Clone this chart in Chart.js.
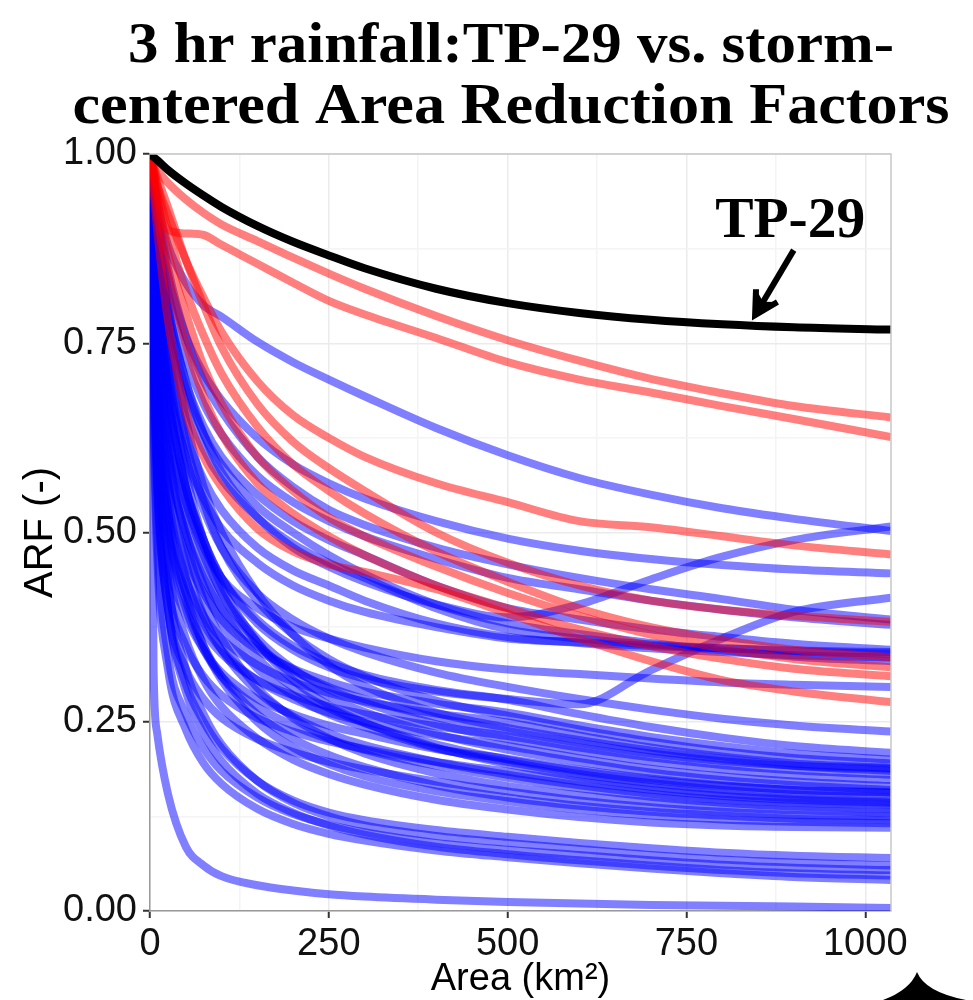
<!DOCTYPE html>
<html><head><meta charset="utf-8">
<script src="https://cdn.jsdelivr.net/npm/chart.js@4.4.1/dist/chart.umd.min.js"></script>
<style>html,body{margin:0;padding:0;background:#fff}#wrap{width:973px;height:1000px;position:relative}</style>
</head><body><div id="wrap"><canvas id="c"></canvas></div>
<script>
// ---------------- data ----------------
const areaKm2 = [0, 5, 10, 25, 50, 75, 100, 150, 200, 250, 300, 400, 500, 600, 700, 800, 900, 1036];
const xTicks = [0, 250, 500, 750, 1000];
const yTicks = [0, 0.25, 0.5, 0.75, 1];
const titleLines = ['3 hr rainfall:TP-29 vs. storm-', 'centered Area Reduction Factors'];
const xTitle = 'Area (km²)';
const yTitle = 'ARF (-)';
const tpLabel = 'TP-29';

const tp29 = [1, 0.996, 0.992, 0.979, 0.961, 0.945, 0.93, 0.905, 0.884, 0.866, 0.849, 0.822, 0.803, 0.79, 0.781, 0.775, 0.771, 0.768];

const redStorms = [
  [1, 0.99, 0.98, 0.962, 0.94, 0.922, 0.907, 0.885, 0.863, 0.842, 0.822, 0.786, 0.754, 0.727, 0.703, 0.684, 0.667, 0.652],
  [1, 0.975, 0.95, 0.90, 0.895, 0.893, 0.88, 0.855, 0.83, 0.806, 0.788, 0.757, 0.725, 0.702, 0.685, 0.667, 0.65, 0.626],
  [1, 0.98, 0.96, 0.92, 0.86, 0.81, 0.765, 0.70, 0.655, 0.625, 0.60, 0.565, 0.54, 0.515, 0.507, 0.495, 0.483, 0.471],
  [1, 0.985, 0.97, 0.93, 0.86, 0.80, 0.745, 0.67, 0.62, 0.585, 0.555, 0.50, 0.46, 0.43, 0.41, 0.398, 0.39, 0.382],
  [1, 0.98, 0.96, 0.90, 0.82, 0.76, 0.71, 0.64, 0.59, 0.555, 0.525, 0.475, 0.435, 0.40, 0.375, 0.358, 0.345, 0.335],
  [1, 0.97, 0.94, 0.87, 0.79, 0.72, 0.67, 0.60, 0.555, 0.52, 0.495, 0.455, 0.42, 0.39, 0.365, 0.347, 0.333, 0.322],
  [1, 0.96, 0.92, 0.84, 0.75, 0.68, 0.63, 0.565, 0.525, 0.495, 0.47, 0.43, 0.40, 0.372, 0.35, 0.333, 0.32, 0.31],
  [1, 0.95, 0.90, 0.78, 0.66, 0.60, 0.56, 0.505, 0.475, 0.458, 0.448, 0.425, 0.393, 0.36, 0.33, 0.305, 0.29, 0.276]
];

const blueStorms = [
  [1, 0.97, 0.94, 0.88, 0.83, 0.80, 0.785, 0.752, 0.725, 0.702, 0.68, 0.638, 0.602, 0.572, 0.55, 0.532, 0.518, 0.502],
  [1, 0.95, 0.90, 0.80, 0.70, 0.63, 0.58, 0.52, 0.48, 0.455, 0.435, 0.405, 0.388, 0.405, 0.438, 0.468, 0.49, 0.508],
  [1, 0.96, 0.92, 0.84, 0.76, 0.71, 0.675, 0.625, 0.59, 0.565, 0.545, 0.515, 0.492, 0.476, 0.465, 0.457, 0.451, 0.446],
  [1, 0.90, 0.82, 0.68, 0.56, 0.49, 0.44, 0.38, 0.345, 0.322, 0.307, 0.29, 0.28, 0.273, 0.318, 0.36, 0.395, 0.414],
  [1, 0.97, 0.93, 0.85, 0.76, 0.70, 0.66, 0.60, 0.56, 0.53, 0.51, 0.48, 0.458, 0.44, 0.425, 0.412, 0.398, 0.385],
  [1, 0.96, 0.91, 0.82, 0.73, 0.67, 0.63, 0.575, 0.54, 0.515, 0.495, 0.465, 0.44, 0.425, 0.41, 0.398, 0.388, 0.378],
  [1, 0.95, 0.90, 0.80, 0.70, 0.64, 0.60, 0.55, 0.515, 0.49, 0.47, 0.43, 0.40, 0.385, 0.372, 0.362, 0.353, 0.345],
  [1, 0.94, 0.88, 0.77, 0.67, 0.61, 0.57, 0.52, 0.485, 0.46, 0.44, 0.40, 0.372, 0.36, 0.352, 0.347, 0.343, 0.34],
  [1, 0.92, 0.85, 0.73, 0.63, 0.57, 0.53, 0.48, 0.45, 0.43, 0.41, 0.38, 0.362, 0.354, 0.347, 0.342, 0.338, 0.335],
  [1, 0.95, 0.90, 0.79, 0.69, 0.63, 0.59, 0.535, 0.50, 0.47, 0.445, 0.405, 0.38, 0.366, 0.354, 0.344, 0.336, 0.33],
  [1, 0.88, 0.78, 0.64, 0.54, 0.48, 0.44, 0.40, 0.375, 0.36, 0.348, 0.33, 0.319, 0.313, 0.307, 0.302, 0.299, 0.296],
  [1, 0.92, 0.85, 0.72, 0.60, 0.53, 0.48, 0.42, 0.385, 0.36, 0.342, 0.315, 0.296, 0.28, 0.266, 0.254, 0.245, 0.237],
  [1, 0.90, 0.82, 0.68, 0.56, 0.49, 0.44, 0.385, 0.35, 0.328, 0.312, 0.292, 0.279, 0.26, 0.243, 0.229, 0.218, 0.209],
  [1, 0.84, 0.72, 0.57, 0.47, 0.42, 0.385, 0.345, 0.32, 0.303, 0.29, 0.274, 0.262, 0.245, 0.23, 0.218, 0.208, 0.20],
  [1, 0.93, 0.87, 0.75, 0.62, 0.54, 0.48, 0.41, 0.365, 0.333, 0.31, 0.278, 0.258, 0.24, 0.224, 0.211, 0.202, 0.195],
  [1, 0.82, 0.68, 0.53, 0.44, 0.39, 0.36, 0.325, 0.303, 0.288, 0.277, 0.261, 0.249, 0.232, 0.216, 0.204, 0.195, 0.189],
  [1, 0.95, 0.90, 0.78, 0.65, 0.56, 0.50, 0.42, 0.365, 0.325, 0.297, 0.262, 0.242, 0.226, 0.212, 0.201, 0.192, 0.185],
  [1, 0.80, 0.66, 0.51, 0.42, 0.37, 0.34, 0.305, 0.285, 0.27, 0.26, 0.244, 0.231, 0.216, 0.203, 0.193, 0.186, 0.18],
  [1, 0.90, 0.81, 0.66, 0.54, 0.47, 0.42, 0.36, 0.32, 0.293, 0.275, 0.247, 0.227, 0.211, 0.197, 0.187, 0.179, 0.173],
  [1, 0.84, 0.71, 0.55, 0.44, 0.38, 0.345, 0.305, 0.28, 0.262, 0.25, 0.232, 0.218, 0.202, 0.188, 0.178, 0.171, 0.165],
  [1, 0.92, 0.84, 0.69, 0.56, 0.48, 0.42, 0.355, 0.312, 0.283, 0.263, 0.234, 0.213, 0.197, 0.183, 0.173, 0.166, 0.16],
  [1, 0.77, 0.62, 0.47, 0.39, 0.345, 0.315, 0.28, 0.26, 0.245, 0.234, 0.214, 0.201, 0.187, 0.175, 0.166, 0.16, 0.156],
  [1, 0.88, 0.77, 0.61, 0.50, 0.43, 0.38, 0.32, 0.285, 0.26, 0.243, 0.215, 0.197, 0.181, 0.169, 0.16, 0.154, 0.15],
  [1, 0.93, 0.86, 0.72, 0.58, 0.49, 0.43, 0.355, 0.305, 0.272, 0.249, 0.216, 0.194, 0.177, 0.164, 0.155, 0.149, 0.145],
  [1, 0.74, 0.58, 0.43, 0.35, 0.31, 0.285, 0.255, 0.237, 0.224, 0.214, 0.197, 0.184, 0.171, 0.16, 0.152, 0.147, 0.143],
  [1, 0.86, 0.73, 0.57, 0.46, 0.39, 0.345, 0.29, 0.257, 0.235, 0.219, 0.197, 0.18, 0.166, 0.155, 0.147, 0.143, 0.14],
  [1, 0.80, 0.66, 0.50, 0.40, 0.345, 0.31, 0.27, 0.245, 0.227, 0.213, 0.192, 0.176, 0.162, 0.151, 0.143, 0.138, 0.135],
  [1, 0.89, 0.79, 0.62, 0.49, 0.41, 0.36, 0.295, 0.255, 0.228, 0.208, 0.182, 0.165, 0.153, 0.144, 0.137, 0.133, 0.13],
  [1, 0.72, 0.56, 0.40, 0.32, 0.28, 0.255, 0.227, 0.21, 0.197, 0.187, 0.171, 0.158, 0.146, 0.137, 0.131, 0.127, 0.125],
  [1, 0.84, 0.70, 0.53, 0.42, 0.35, 0.305, 0.25, 0.216, 0.194, 0.178, 0.158, 0.145, 0.134, 0.126, 0.121, 0.118, 0.116],
  [1, 0.78, 0.63, 0.46, 0.36, 0.305, 0.27, 0.228, 0.20, 0.181, 0.167, 0.147, 0.134, 0.124, 0.117, 0.113, 0.111, 0.11],
  [1, 0.74, 0.57, 0.40, 0.30, 0.25, 0.215, 0.172, 0.146, 0.13, 0.12, 0.107, 0.098, 0.09, 0.083, 0.077, 0.073, 0.07],
  [1, 0.80, 0.63, 0.44, 0.32, 0.26, 0.22, 0.172, 0.143, 0.125, 0.113, 0.099, 0.09, 0.082, 0.074, 0.068, 0.064, 0.06],
  [1, 0.68, 0.50, 0.34, 0.26, 0.215, 0.185, 0.15, 0.128, 0.114, 0.104, 0.09, 0.081, 0.074, 0.067, 0.061, 0.057, 0.054],
  [1, 0.76, 0.58, 0.40, 0.29, 0.235, 0.198, 0.155, 0.13, 0.113, 0.101, 0.085, 0.075, 0.067, 0.06, 0.054, 0.05, 0.047],
  [1, 0.65, 0.47, 0.32, 0.24, 0.195, 0.168, 0.135, 0.115, 0.102, 0.093, 0.08, 0.071, 0.063, 0.056, 0.05, 0.045, 0.041],
  [1, 0.32, 0.235, 0.155, 0.085, 0.06, 0.046, 0.034, 0.027, 0.022, 0.019, 0.015, 0.012, 0.01, 0.008, 0.007, 0.006, 0.004],
  [1, 0.90, 0.82, 0.70, 0.60, 0.545, 0.505, 0.46, 0.43, 0.41, 0.395, 0.375, 0.36, 0.355, 0.35, 0.347, 0.344, 0.342],
  [1, 0.86, 0.74, 0.60, 0.50, 0.44, 0.40, 0.35, 0.318, 0.296, 0.28, 0.256, 0.238, 0.222, 0.208, 0.198, 0.192, 0.188],
  [1, 0.90, 0.80, 0.64, 0.52, 0.45, 0.40, 0.335, 0.295, 0.268, 0.248, 0.22, 0.20, 0.185, 0.173, 0.165, 0.16, 0.157],
  [1, 0.82, 0.68, 0.51, 0.41, 0.35, 0.31, 0.26, 0.228, 0.206, 0.19, 0.166, 0.15, 0.139, 0.131, 0.126, 0.122, 0.12]
];

// ---------------- chart ----------------
const toPts = arr => arr.map((v, i) => ({ x: areaKm2[i], y: v }));
const lineStyle = { pointRadius: 0, borderWidth: 8, cubicInterpolationMode: 'monotone', borderJoinStyle: 'round', fill: false };

const datasets = [];
datasets.push(Object.assign({ label: 'TP-29', data: toPts(tp29), borderColor: '#000000' }, lineStyle));
redStorms.forEach((s, i) => datasets.push(Object.assign({ label: 'red ' + (i + 1), data: toPts(s), borderColor: 'rgba(255,0,0,0.5)' }, lineStyle)));
blueStorms.forEach((s, i) => datasets.push(Object.assign({ label: 'blue ' + (i + 1), data: toPts(s), borderColor: 'rgba(0,0,255,0.5)' }, lineStyle)));

const withMinors = (majors, max) => {
  const out = [];
  for (let i = 0; i < majors.length; i++) {
    out.push(majors[i]);
    const step = (i + 1 < majors.length) ? majors[i + 1] - majors[i] : majors[i] - majors[i - 1];
    const mid = majors[i] + step / 2;
    if (mid <= max + 1e-9) out.push(mid);
  }
  return out;
};
const isMajor = (list, v) => list.some(t => Math.abs(t - v) < 1e-9);

const decorPlugin = {
  id: 'decor',
  beforeDraw(chart) {
    const ctx = chart.ctx;
    ctx.save();
    ctx.fillStyle = '#fff';
    ctx.fillRect(0, 0, chart.width, chart.height);
    ctx.restore();
  },
  afterDraw(chart) {
    const ctx = chart.ctx;
    const a = chart.chartArea;
    const xs = chart.scales.x, ys = chart.scales.y;
    ctx.save();
    // panel border top/right
    ctx.strokeStyle = '#c8c8c8';
    ctx.lineWidth = 1.5;
    ctx.beginPath();
    ctx.moveTo(a.left, a.top); ctx.lineTo(a.right, a.top); ctx.lineTo(a.right, a.bottom);
    ctx.stroke();

    // title
    ctx.fillStyle = '#000';
    ctx.font = 'bold 58px "Liberation Serif"';
    ctx.textAlign = 'center';
    ctx.textBaseline = 'alphabetic';
    const targetW = [766, 877];
    const baseY = [62, 123];
    titleLines.forEach((t, i) => {
      const w = ctx.measureText(t).width;
      ctx.save();
      ctx.translate(511, baseY[i]);
      ctx.scale(targetW[i] / w, 1);
      ctx.fillText(t, 0, 0);
      ctx.restore();
    });

    // axis titles
    ctx.font = '38px "Liberation Sans"';
    ctx.fillStyle = '#000';
    ctx.textAlign = 'center';
    ctx.textBaseline = 'alphabetic';
    ctx.fillText(xTitle, (a.left + a.right) / 2, 990);
    ctx.font = '40px "Liberation Sans"';
    ctx.save();
    ctx.translate(52, (a.top + a.bottom) / 2);
    ctx.rotate(-Math.PI / 2);
    ctx.fillText(yTitle, 0, 0);
    ctx.restore();

    // TP-29 annotation
    ctx.font = 'bold 56px "Liberation Serif"';
    const lw = ctx.measureText(tpLabel).width;
    ctx.save();
    ctx.translate(xs.getPixelForValue(895), ys.getPixelForValue(0.89));
    ctx.scale(150 / lw, 1);
    ctx.fillText(tpLabel, 0, 0);
    ctx.restore();
    // arrow
    const tx = xs.getPixelForValue(846), ty = ys.getPixelForValue(0.787);
    const sx = xs.getPixelForValue(900), sy = ys.getPixelForValue(0.873);
    ctx.strokeStyle = '#000';
    ctx.lineWidth = 6;
    ctx.lineCap = 'butt';
    ctx.beginPath(); ctx.moveTo(sx, sy); ctx.lineTo(tx + (sx - tx) * 0.2, ty + (sy - ty) * 0.2); ctx.stroke();
    const ang = Math.atan2(ty - sy, tx - sx);
    const hl = 26, spread = 0.5;
    ctx.lineJoin = 'miter';
    ctx.beginPath();
    ctx.moveTo(tx - hl * Math.cos(ang - spread), ty - hl * Math.sin(ang - spread));
    ctx.lineTo(tx, ty);
    ctx.lineTo(tx - hl * Math.cos(ang + spread), ty - hl * Math.sin(ang + spread));
    ctx.stroke();
    ctx.beginPath();
    ctx.moveTo(tx, ty);
    ctx.lineTo(tx - hl * Math.cos(ang - spread), ty - hl * Math.sin(ang - spread));
    ctx.lineTo(tx - hl * 0.6 * Math.cos(ang), ty - hl * 0.6 * Math.sin(ang));
    ctx.lineTo(tx - hl * Math.cos(ang + spread), ty - hl * Math.sin(ang + spread));
    ctx.closePath();
    ctx.fillStyle = '#000';
    ctx.fill();

    // bottom-right page decoration
    ctx.beginPath();
    ctx.moveTo(883, 1000);
    ctx.quadraticCurveTo(910, 990, 917, 972);
    ctx.quadraticCurveTo(925, 992, 966, 1000);
    ctx.closePath();
    ctx.fill();
    ctx.restore();
  }
};

new Chart(document.getElementById('c'), {
  type: 'line',
  data: { datasets },
  plugins: [decorPlugin],
  options: {
    responsive: true,
    maintainAspectRatio: false,
    animation: false,
    events: [],
    layout: { padding: { top: 154, right: 82, left: 0, bottom: 0 } },
    plugins: { legend: { display: false }, title: { display: false }, tooltip: { enabled: false } },
    scales: {
      x: {
        type: 'linear', min: 0, max: 1036,
        afterFit: s => { s.height = 89; },
        afterBuildTicks: s => { s.ticks = withMinors(xTicks, 1036).map(v => ({ value: v })); },
        ticks: {
          autoSkip: false, maxRotation: 0, padding: 4, color: '#111',
          font: { family: '"Liberation Sans"', size: 38 },
          callback: v => isMajor(xTicks, v) ? String(v) : ''
        },
        grid: {
          color: c => (c.tick && isMajor(xTicks, c.tick.value)) ? '#ebebeb' : '#f4f4f4',
          lineWidth: 1.5,
          tickLength: 7,
          tickColor: c => (c.tick && isMajor(xTicks, c.tick.value)) ? '#333' : 'rgba(0,0,0,0)',
          tickWidth: 2
        },
        border: { display: true, color: '#999', width: 1.5 }
      },
      y: {
        type: 'linear', min: 0, max: 1,
        afterFit: s => { s.width = 150; },
        afterBuildTicks: s => { s.ticks = withMinors(yTicks, 1).map(v => ({ value: v })); },
        ticks: {
          autoSkip: false, padding: 6, color: '#111',
          font: { family: '"Liberation Sans"', size: 38 },
          callback: v => isMajor(yTicks, v) ? v.toFixed(2) : ''
        },
        grid: {
          color: c => (c.tick && isMajor(yTicks, c.tick.value)) ? '#ebebeb' : '#f4f4f4',
          lineWidth: 1.5,
          tickLength: 7,
          tickColor: c => (c.tick && isMajor(yTicks, c.tick.value)) ? '#333' : 'rgba(0,0,0,0)',
          tickWidth: 2
        },
        border: { display: true, color: '#999', width: 1.5 }
      }
    }
  }
});
</script>
</body></html>
